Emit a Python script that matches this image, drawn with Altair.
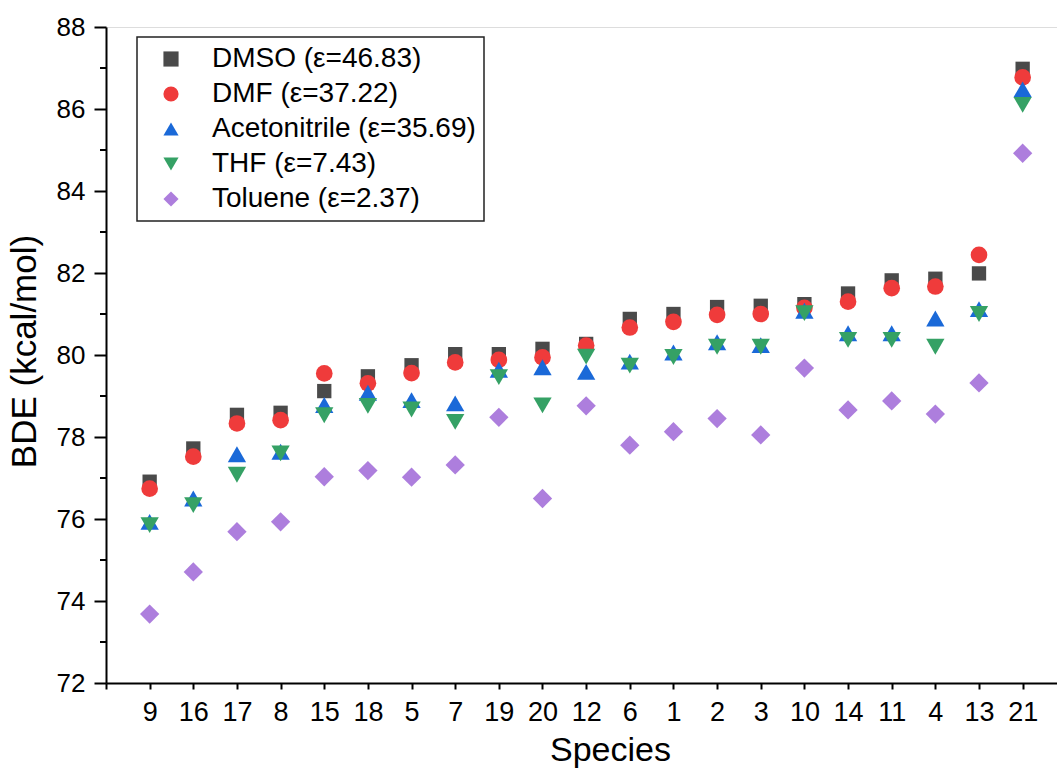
import altair as alt
import pandas as pd

species = ["9", "16", "17", "8", "15", "18", "5", "7", "19", "20", "12",
           "6", "1", "2", "3", "10", "14", "11", "4", "13", "21"]
series = ["DMSO (ε=46.83)", "DMF (ε=37.22)", "Acetonitrile (ε=35.69)",
          "THF (ε=7.43)", "Toluene (ε=2.37)"]
dmso = [76.91, 77.72, 78.54, 78.59, 79.12, 79.48, 79.75, 80.02, 80.02, 80.15, 80.27,
        80.88, 81.00, 81.17, 81.20, 81.24, 81.50, 81.82, 81.86, 81.99, 86.98]
dmf = [76.74, 77.52, 78.33, 78.41, 79.55, 79.31, 79.56, 79.82, 79.88, 79.94, 80.23,
       80.67, 80.81, 80.98, 81.00, 81.15, 81.30, 81.63, 81.67, 82.44, 86.77]
acn = [75.93, 76.50, 77.58, 77.64, 78.78, 79.08, 78.90, 78.82, 79.64, 79.70, 79.59,
       79.84, 80.06, 80.31, 80.24, 81.08, 80.53, 80.53, 80.89, 81.12, 86.48]
thf = [75.85, 76.34, 77.08, 77.60, 78.53, 78.76, 78.67, 78.37, 79.46, 78.77, 79.96,
       79.74, 79.95, 80.20, 80.20, 81.02, 80.37, 80.37, 80.20, 81.00, 86.10]
tol = [73.68, 74.71, 75.69, 75.93, 77.03, 77.18, 77.02, 77.32, 78.48, 76.50, 78.76,
       77.80, 78.13, 78.45, 78.05, 79.68, 78.66, 78.88, 78.56, 79.32, 84.92]

colors = ["#4a4a4a", "#ef3b3b", "#1a69d8", "#35a165", "#ad7edd"]
shapes = ["square", "circle", "triangle-up", "triangle-down", "diamond"]
sizes = [205, 278, 335, 335, 373]
minor_ticks = [73, 75, 77, 79, 81, 83, 85, 87]

rows = []
for k, (name, vals) in enumerate(zip(series, [dmso, dmf, acn, thf, tol])):
    for i, (sp, v) in enumerate(zip(species, vals)):
        rows.append({"pos": i + 1, "species": sp, "series": name, "BDE": v,
                     "order": k, "msize": sizes[k]})
df = pd.DataFrame(rows)
minor_df = pd.DataFrame({"BDE": minor_ticks})

FONT = "Liberation Sans"
label_arr = "[''," + ",".join("'%s'" % s for s in species) + "]"

y_axis = alt.Axis(
    title="BDE (kcal/mol)", values=list(range(72, 89, 2)), tickSize=12,
    labelPadding=9, labelFontSize=26, titleFontSize=35, labelFont=FONT,
    titleFont=FONT, titleFontWeight="normal", titleAngle=270, titleX=-71,
    titleY=324, titleAlign="center", titleBaseline="alphabetic", grid=False,
    domainColor="black", domainWidth=2, tickColor="black", tickWidth=2,
    labelColor="black", titleColor="black",
)
y_scale = alt.Scale(domain=[72, 88], nice=False, zero=False)

points = alt.Chart(df).mark_point(filled=True, opacity=1, strokeWidth=0).encode(
    x=alt.X(
        "pos:Q",
        scale=alt.Scale(domain=[0, 21.787], nice=False, zero=False),
        axis=alt.Axis(
            title="Species", values=list(range(0, 22)), labelExpr=label_arr + "[datum.value]",
            tickSize=6, labelPadding=10, labelFontSize=27, titleFontSize=34,
            labelFont=FONT, titleFont=FONT, titleFontWeight="normal", grid=False,
            titleX=504, titleY=77, titleAlign="center", titleBaseline="alphabetic",
            domainColor="black", domainWidth=2, tickColor="black", tickWidth=2,
            labelColor="black", titleColor="black", labelOverlap=False,
        ),
    ),
    y=alt.Y("BDE:Q", scale=y_scale, axis=y_axis),
    color=alt.Color(
        "series:N",
        scale=alt.Scale(domain=series, range=colors),
        legend=alt.Legend(
            title=None, orient="none", legendX=31, legendY=10, padding=8,
            symbolOffset=12, labelOffset=27, rowPadding=7, symbolSize=230,
            symbolStrokeWidth=0, labelFontSize=28, labelFont=FONT,
            labelColor="black", labelLimit=500, strokeColor="#222222",
            fillColor="white",
        ),
    ),
    shape=alt.Shape("series:N", scale=alt.Scale(domain=series, range=shapes)),
    size=alt.Size("msize:Q", scale=None, legend=None),
    order=alt.Order("order:Q"),
)

minor = alt.Chart(minor_df).mark_rule(color="black", strokeWidth=2).encode(
    y=alt.Y("BDE:Q", scale=y_scale, axis=y_axis),
    x=alt.value(-6),
    x2=alt.value(0),
)

chart = alt.layer(minor, points).properties(
    width=951, height=656,
    padding={"left": 106, "top": 27, "right": 0, "bottom": 86},
    autosize=alt.AutoSizeParams(type="none"),
).configure_view(stroke=None).configure(background="white").configure_legend(strokeWidth=1.5)

chart.save("out.html", embed_options={"renderer": "svg", "actions": False})
